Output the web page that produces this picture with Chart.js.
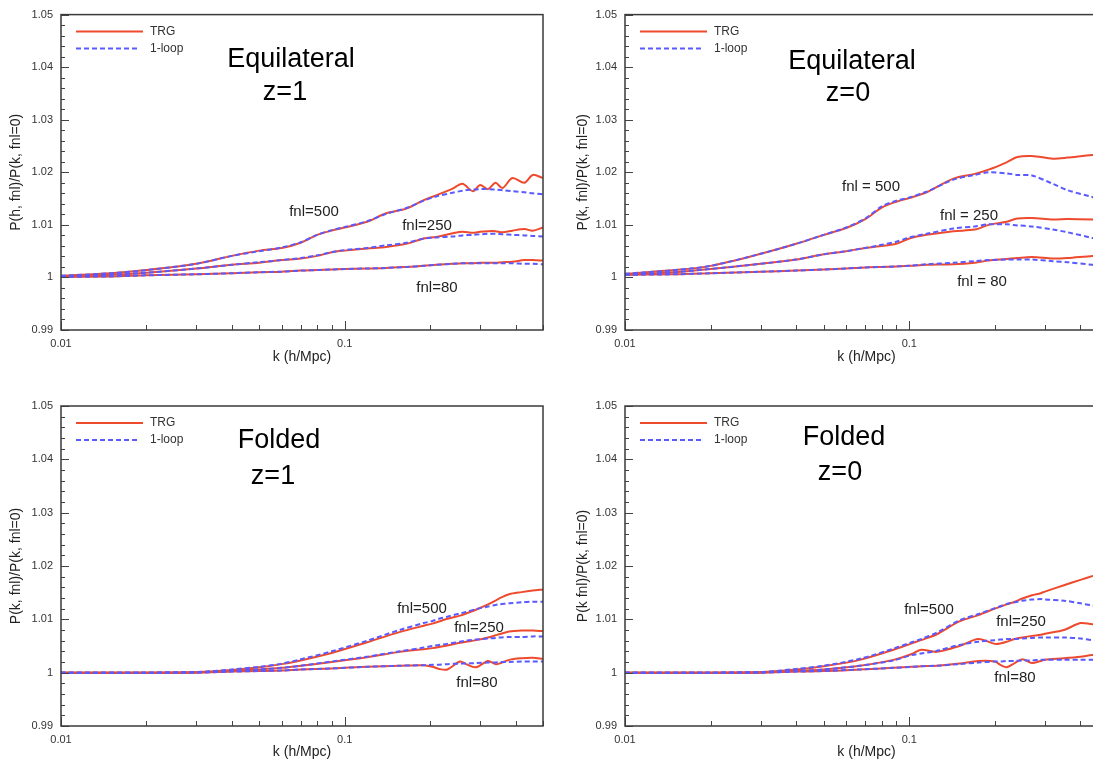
<!DOCTYPE html>
<html>
<head>
<meta charset="utf-8">
<script src="https://cdn.jsdelivr.net/npm/chart.js@4.4.1/dist/chart.umd.min.js"></script>
<style>
  html, body { margin: 0; padding: 0; background: #fff; overflow: hidden; }
  body { width: 1093px; height: 762px; position: relative; }
  canvas { position: absolute; }
</style>
</head>
<body>
<canvas id="eqZ1" width="550" height="390" style="left:0;top:0"></canvas>
<canvas id="eqZ0" width="600" height="390" style="left:550px;top:0"></canvas>
<canvas id="foZ1" width="550" height="372" style="left:0;top:390px"></canvas>
<canvas id="foZ0" width="600" height="372" style="left:550px;top:390px"></canvas>
<script>
// tick labels
const xTickValues = [0.01, 0.1];
const xTickLabels = ['0.01', '0.1'];
const yTickValues = [0.99, 1, 1.01, 1.02, 1.03, 1.04, 1.05];
const yTickLabels = ['0.99', '1', '1.01', '1.02', '1.03', '1.04', '1.05'];
const legendLabels = ['TRG', '1-loop'];

// Equilateral, z=1
const kEqZ1 = [0.01, 0.015, 0.02, 0.03, 0.04, 0.05, 0.06, 0.07, 0.08, 0.09, 0.1, 0.12, 0.14, 0.165, 0.19, 0.21, 0.24, 0.26, 0.283, 0.3, 0.32, 0.34, 0.36, 0.39, 0.43, 0.46, 0.5];
const trgEqZ1_500 = [1.0003, 1.0008, 1.0014, 1.0026, 1.0041, 1.0051, 1.0056, 1.0066, 1.0081, 1.0089, 1.0095, 1.0106, 1.0122, 1.0131, 1.0147, 1.0156, 1.0169, 1.0178, 1.0164, 1.0176, 1.0168, 1.0180, 1.0170, 1.0189, 1.0180, 1.0195, 1.0189];
const loopEqZ1_500 = [1.0003, 1.0008, 1.0014, 1.0026, 1.0041, 1.0050, 1.0057, 1.0067, 1.0081, 1.0090, 1.0096, 1.0107, 1.0121, 1.0132, 1.0146, 1.0154, 1.0161, 1.0165, 1.0167, 1.0168, 1.0168, 1.0167, 1.0166, 1.0164, 1.0162, 1.0160, 1.0158];
const trgEqZ1_250 = [1.0002, 1.0005, 1.0009, 1.0017, 1.0024, 1.0028, 1.0033, 1.0036, 1.0041, 1.0048, 1.0051, 1.0055, 1.0058, 1.0064, 1.0074, 1.0077, 1.0084, 1.0087, 1.0085, 1.0087, 1.0088, 1.0088, 1.0086, 1.0089, 1.0092, 1.0089, 1.0095];
const loopEqZ1_250 = [1.0002, 1.0005, 1.0009, 1.0017, 1.0024, 1.0029, 1.0033, 1.0037, 1.0042, 1.0048, 1.0052, 1.0056, 1.0061, 1.0066, 1.0074, 1.0076, 1.0078, 1.0080, 1.0081, 1.0082, 1.0083, 1.0083, 1.0082, 1.0081, 1.0080, 1.0079, 1.0078];
const trgEqZ1_80 = [1.0001, 1.0002, 1.0004, 1.0006, 1.0008, 1.0010, 1.0011, 1.0013, 1.0014, 1.0015, 1.0016, 1.0017, 1.0018, 1.0020, 1.0022, 1.0024, 1.0026, 1.0027, 1.0027, 1.0028, 1.0028, 1.0028, 1.0029, 1.0030, 1.0033, 1.0033, 1.0032];
const loopEqZ1_80 = [1.0001, 1.0002, 1.0004, 1.0006, 1.0008, 1.0010, 1.0011, 1.0013, 1.0014, 1.0015, 1.0016, 1.0017, 1.0018, 1.0020, 1.0022, 1.0024, 1.0026, 1.0027, 1.0027, 1.0027, 1.0027, 1.0027, 1.0027, 1.0027, 1.0026, 1.0026, 1.0025];

// Equilateral, z=0
const kEqZ0 = [0.01, 0.015, 0.02, 0.03, 0.04, 0.05, 0.06, 0.07, 0.08, 0.09, 0.1, 0.115, 0.143, 0.17, 0.19, 0.22, 0.24, 0.27, 0.32, 0.36, 0.44, 0.5];
const trgEqZ0_500 = [1.0007, 1.0014, 1.0022, 1.0045, 1.0064, 1.0081, 1.0094, 1.0111, 1.0133, 1.0144, 1.0151, 1.0162, 1.0188, 1.0197, 1.0205, 1.0219, 1.0229, 1.0231, 1.0226, 1.0228, 1.0233, 1.0234];
const loopEqZ0_500 = [1.0007, 1.0014, 1.0022, 1.0045, 1.0064, 1.0081, 1.0095, 1.0112, 1.0135, 1.0146, 1.0152, 1.0163, 1.0186, 1.0195, 1.0200, 1.0198, 1.0195, 1.0194, 1.0178, 1.0166, 1.0153, 1.0143];
const trgEqZ0_250 = [1.0005, 1.0010, 1.0016, 1.0026, 1.0034, 1.0044, 1.0050, 1.0056, 1.0060, 1.0064, 1.0074, 1.0081, 1.0088, 1.0091, 1.0100, 1.0106, 1.0112, 1.0113, 1.0110, 1.0111, 1.0110, 1.0108];
const loopEqZ0_250 = [1.0005, 1.0010, 1.0016, 1.0026, 1.0034, 1.0044, 1.0050, 1.0056, 1.0062, 1.0068, 1.0076, 1.0083, 1.0093, 1.0097, 1.0101, 1.0101, 1.0099, 1.0097, 1.0091, 1.0086, 1.0075, 1.0068];
const trgEqZ0_80 = [1.0005, 1.0006, 1.0008, 1.0011, 1.0013, 1.0015, 1.0017, 1.0019, 1.0020, 1.0021, 1.0022, 1.0024, 1.0025, 1.0028, 1.0032, 1.0035, 1.0037, 1.0039, 1.0036, 1.0037, 1.0041, 1.0042];
const loopEqZ0_80 = [1.0005, 1.0006, 1.0008, 1.0011, 1.0013, 1.0015, 1.0017, 1.0019, 1.0020, 1.0021, 1.0022, 1.0025, 1.0028, 1.0031, 1.0033, 1.0034, 1.0034, 1.0034, 1.0031, 1.0029, 1.0024, 1.0021];

// Folded, z=1
const kFoZ1 = [0.01, 0.02, 0.03, 0.04, 0.05, 0.06, 0.07, 0.09, 0.12, 0.156, 0.19, 0.204, 0.215, 0.23, 0.255, 0.268, 0.29, 0.32, 0.34, 0.35, 0.38, 0.42, 0.46, 0.5];
const trgFoZ1_500 = [1.0000, 1.0000, 1.0001, 1.0005, 1.0010, 1.0016, 1.0023, 1.0037, 1.0057, 1.0076, 1.0088, 1.0092, 1.0096, 1.0101, 1.0107, 1.0111, 1.0118, 1.0128, 1.0135, 1.0139, 1.0147, 1.0151, 1.0154, 1.0156];
const loopFoZ1_500 = [1.0000, 1.0000, 1.0001, 1.0006, 1.0011, 1.0017, 1.0025, 1.0040, 1.0060, 1.0080, 1.0093, 1.0097, 1.0101, 1.0105, 1.0111, 1.0114, 1.0119, 1.0124, 1.0127, 1.0128, 1.0130, 1.0132, 1.0133, 1.0133];
const trgFoZ1_250 = [1.0000, 1.0000, 1.0001, 1.0003, 1.0006, 1.0009, 1.0013, 1.0020, 1.0029, 1.0039, 1.0044, 1.0046, 1.0048, 1.0051, 1.0056, 1.0058, 1.0061, 1.0066, 1.0070, 1.0072, 1.0077, 1.0079, 1.0079, 1.0078];
const loopFoZ1_250 = [1.0000, 1.0000, 1.0001, 1.0003, 1.0006, 1.0009, 1.0013, 1.0021, 1.0030, 1.0040, 1.0047, 1.0050, 1.0052, 1.0054, 1.0058, 1.0060, 1.0062, 1.0064, 1.0065, 1.0066, 1.0067, 1.0067, 1.0068, 1.0068];
const trgFoZ1_80 = [1.0000, 1.0000, 1.0000, 1.0002, 1.0003, 1.0004, 1.0006, 1.0008, 1.0011, 1.0013, 1.0014, 1.0011, 1.0007, 1.0006, 1.0021, 1.0016, 1.0010, 1.0022, 1.0016, 1.0017, 1.0024, 1.0027, 1.0028, 1.0026];
const loopFoZ1_80 = [1.0000, 1.0000, 1.0000, 1.0002, 1.0003, 1.0004, 1.0006, 1.0008, 1.0011, 1.0013, 1.0014, 1.0015, 1.0015, 1.0016, 1.0017, 1.0017, 1.0018, 1.0019, 1.0019, 1.0020, 1.0020, 1.0021, 1.0021, 1.0021];

// Folded, z=0
const kFoZ0 = [0.01, 0.02, 0.03, 0.04, 0.05, 0.067, 0.088, 0.102, 0.11, 0.125, 0.15, 0.175, 0.2, 0.21, 0.22, 0.235, 0.25, 0.27, 0.29, 0.3, 0.35, 0.4, 0.44, 0.5];
const trgFoZ0_500 = [1.0000, 1.0000, 1.0001, 1.0006, 1.0012, 1.0024, 1.0043, 1.0055, 1.0061, 1.0072, 1.0096, 1.0108, 1.0120, 1.0124, 1.0128, 1.0133, 1.0139, 1.0145, 1.0149, 1.0152, 1.0164, 1.0174, 1.0181, 1.0190];
const loopFoZ0_500 = [1.0000, 1.0000, 1.0001, 1.0007, 1.0013, 1.0026, 1.0045, 1.0057, 1.0063, 1.0075, 1.0098, 1.0110, 1.0121, 1.0125, 1.0129, 1.0132, 1.0135, 1.0137, 1.0138, 1.0137, 1.0135, 1.0130, 1.0126, 1.0121];
const trgFoZ0_250 = [1.0000, 1.0000, 1.0001, 1.0003, 1.0006, 1.0013, 1.0024, 1.0035, 1.0043, 1.0039, 1.0050, 1.0063, 1.0054, 1.0055, 1.0058, 1.0063, 1.0066, 1.0069, 1.0071, 1.0073, 1.0080, 1.0093, 1.0091, 1.0092];
const loopFoZ0_250 = [1.0000, 1.0000, 1.0001, 1.0003, 1.0006, 1.0013, 1.0023, 1.0033, 1.0036, 1.0041, 1.0052, 1.0058, 1.0061, 1.0062, 1.0063, 1.0063, 1.0064, 1.0065, 1.0066, 1.0066, 1.0066, 1.0064, 1.0061, 1.0059];
const trgFoZ0_80 = [1.0000, 1.0000, 1.0000, 1.0002, 1.0003, 1.0006, 1.0009, 1.0011, 1.0012, 1.0013, 1.0017, 1.0022, 1.0021, 1.0014, 1.0010, 1.0018, 1.0025, 1.0018, 1.0022, 1.0024, 1.0027, 1.0030, 1.0033, 1.0035];
const loopFoZ0_80 = [1.0000, 1.0000, 1.0000, 1.0002, 1.0003, 1.0006, 1.0009, 1.0011, 1.0012, 1.0013, 1.0016, 1.0019, 1.0021, 1.0021, 1.0022, 1.0022, 1.0023, 1.0023, 1.0024, 1.0024, 1.0024, 1.0024, 1.0024, 1.0023];

const trgColor = '#ee4a2e';
const loopColor = '#5a5aff';
const fontFamily = '"Liberation Sans", Arial, Helvetica, sans-serif';

const panels = [
  {
    id: 'eqZ1', k: kEqZ1,
    trg: [trgEqZ1_500, trgEqZ1_250, trgEqZ1_80],
    loop: [loopEqZ1_500, loopEqZ1_250, loopEqZ1_80],
    yTitle: 'P(h, fnl)/P(k, fnl=0)',
    heading: ['Equilateral', 'z=1'], headingPos: [[230, 45], [224, 78]],
    fnl: ['fnl=500', 'fnl=250', 'fnl=80'], fnlPos: [[253, 197], [366, 211], [376, 273]],
    pad: { top: 10, right: 7 }, yWidth: 61, xHeight: 60, yTitlePad: 8, xTitlePad: 24
  },
  {
    id: 'eqZ0', k: kEqZ0,
    trg: [trgEqZ0_500, trgEqZ0_250, trgEqZ0_80],
    loop: [loopEqZ0_500, loopEqZ0_250, loopEqZ0_80],
    yTitle: 'P(k, fnl)/P(k, fnl=0)',
    heading: ['Equilateral', 'z=0'], headingPos: [[227, 47], [223, 79]],
    fnl: ['fnl = 500', 'fnl = 250', 'fnl = 80'], fnlPos: [[246, 172], [344, 201], [357, 267]],
    pad: { top: 10, right: 42 }, yWidth: 75, xHeight: 60, yTitlePad: 25, xTitlePad: 24
  },
  {
    id: 'foZ1', k: kFoZ1,
    trg: [trgFoZ1_500, trgFoZ1_250, trgFoZ1_80],
    loop: [loopFoZ1_500, loopFoZ1_250, loopFoZ1_80],
    yTitle: 'P(k, fnl)/P(k, fnl=0)',
    heading: ['Folded', 'z=1'], headingPos: [[218, 35], [212, 71]],
    fnl: ['fnl=500', 'fnl=250', 'fnl=80'], fnlPos: [[361, 203], [418, 222], [416, 277]],
    pad: { top: 16, right: 7 }, yWidth: 61, xHeight: 36, yTitlePad: 8, xTitlePad: 1
  },
  {
    id: 'foZ0', k: kFoZ0,
    trg: [trgFoZ0_500, trgFoZ0_250, trgFoZ0_80],
    loop: [loopFoZ0_500, loopFoZ0_250, loopFoZ0_80],
    yTitle: 'P(k fnl)/P(k, fnl=0)',
    heading: ['Folded', 'z=0'], headingPos: [[219, 32], [215, 67]],
    fnl: ['fnl=500', 'fnl=250', 'fnl=80'], fnlPos: [[304, 204], [396, 216], [390, 272]],
    pad: { top: 16, right: 42 }, yWidth: 75, xHeight: 36, yTitlePad: 25, xTitlePad: 1
  }
];

const xMinorTicks = [0.02, 0.03, 0.04, 0.05, 0.06, 0.07, 0.08, 0.09, 0.2, 0.3, 0.4, 0.5];

function series(k, vals) {
  return k.map((kv, i) => ({ x: kv, y: vals[i] }));
}

// frame, inward ticks, legend and in-plot labels
function decorPlugin(panel) {
  return {
    id: 'decor',
    afterDraw(chart) {
      const { ctx, chartArea: a, scales: { x, y } } = chart;
      ctx.save();

      ctx.strokeStyle = '#444';
      ctx.lineWidth = 1;
      ctx.beginPath();
      for (let i = 0; i <= 30; i++) {
        const py = Math.round(y.getPixelForValue(0.99 + i * 0.002)) + 0.5;
        const len = i % 5 === 0 ? 8 : 4;
        ctx.moveTo(a.left, py);
        ctx.lineTo(a.left + len, py);
      }
      xTickValues.forEach(v => {
        const px = Math.round(x.getPixelForValue(v)) + 0.5;
        ctx.moveTo(px, a.bottom);
        ctx.lineTo(px, a.bottom - 9);
      });
      xMinorTicks.forEach(v => {
        const px = Math.round(x.getPixelForValue(v)) + 0.5;
        ctx.moveTo(px, a.bottom);
        ctx.lineTo(px, a.bottom - 5);
      });
      ctx.stroke();

      ctx.strokeStyle = '#3a3a3a';
      ctx.lineWidth = 1.5;
      ctx.strokeRect(a.left, a.top, a.right - a.left, a.bottom - a.top);

      // legend
      ctx.lineWidth = 2;
      ctx.strokeStyle = trgColor;
      ctx.beginPath();
      ctx.moveTo(a.left + 15, a.top + 17);
      ctx.lineTo(a.left + 82, a.top + 17);
      ctx.stroke();
      ctx.strokeStyle = loopColor;
      ctx.setLineDash([5, 3]);
      ctx.beginPath();
      ctx.moveTo(a.left + 15, a.top + 34);
      ctx.lineTo(a.left + 79, a.top + 34);
      ctx.stroke();
      ctx.setLineDash([]);
      ctx.fillStyle = '#333';
      ctx.font = '12px ' + fontFamily;
      ctx.textAlign = 'left';
      ctx.textBaseline = 'middle';
      ctx.fillText(legendLabels[0], a.left + 89, a.top + 17);
      ctx.fillText(legendLabels[1], a.left + 89, a.top + 34);

      // heading
      ctx.fillStyle = '#000';
      ctx.textAlign = 'center';
      ctx.font = '27px ' + fontFamily;
      panel.heading.forEach((t, i) => {
        ctx.fillText(t, a.left + panel.headingPos[i][0], a.top + panel.headingPos[i][1]);
      });

      // fnl labels
      ctx.fillStyle = '#222';
      ctx.font = '15px ' + fontFamily;
      panel.fnl.forEach((t, i) => {
        ctx.fillText(t, a.left + panel.fnlPos[i][0], a.top + panel.fnlPos[i][1]);
      });
      ctx.restore();
    }
  };
}

panels.forEach(panel => {
  const datasets = [];
  panel.loop.forEach(vals => datasets.push({
    data: series(panel.k, vals),
    borderColor: loopColor,
    borderWidth: 2,
    borderDash: [5, 3],
    pointRadius: 0,
    tension: 0.3,
    fill: false,
    order: 0
  }));
  panel.trg.forEach(vals => datasets.push({
    data: series(panel.k, vals),
    borderColor: trgColor,
    borderWidth: 2,
    pointRadius: 0,
    tension: 0.3,
    fill: false,
    order: 1
  }));

  new Chart(document.getElementById(panel.id), {
    type: 'line',
    data: { datasets },
    options: {
      responsive: false,
      animation: false,
      devicePixelRatio: 1,
      layout: { padding: { left: 0, top: panel.pad.top, right: panel.pad.right, bottom: 0 } },
      plugins: { legend: { display: false }, tooltip: { enabled: false } },
      scales: {
        x: {
          type: 'logarithmic',
          min: 0.01,
          max: 0.5,
          grid: { display: false, drawTicks: false },
          border: { display: false },
          afterBuildTicks: s => { s.ticks = xTickValues.map(v => ({ value: v })); },
          afterFit: s => { s.height = panel.xHeight; },
          ticks: {
            autoSkip: false,
            maxRotation: 0,
            padding: 7,
            color: '#333',
            font: { family: fontFamily, size: 11 },
            callback: (v, i) => xTickLabels[i]
          },
          title: {
            display: true,
            text: 'k (h/Mpc)',
            color: '#222',
            font: { family: fontFamily, size: 14 },
            padding: { top: 0, bottom: panel.xTitlePad }
          }
        },
        y: {
          type: 'linear',
          min: 0.99,
          max: 1.05,
          grid: { display: false, drawTicks: false },
          border: { display: false },
          afterBuildTicks: s => { s.ticks = yTickValues.map(v => ({ value: v })); },
          afterFit: s => { s.width = panel.yWidth; },
          ticks: {
            padding: 8,
            color: '#333',
            font: { family: fontFamily, size: 11 },
            callback: (v, i) => yTickLabels[i]
          },
          title: {
            display: true,
            text: panel.yTitle,
            color: '#222',
            font: { family: fontFamily, size: 14 },
            padding: { top: panel.yTitlePad, bottom: 0 }
          }
        }
      }
    },
    plugins: [decorPlugin(panel)]
  });
});
</script>
</body>
</html>
